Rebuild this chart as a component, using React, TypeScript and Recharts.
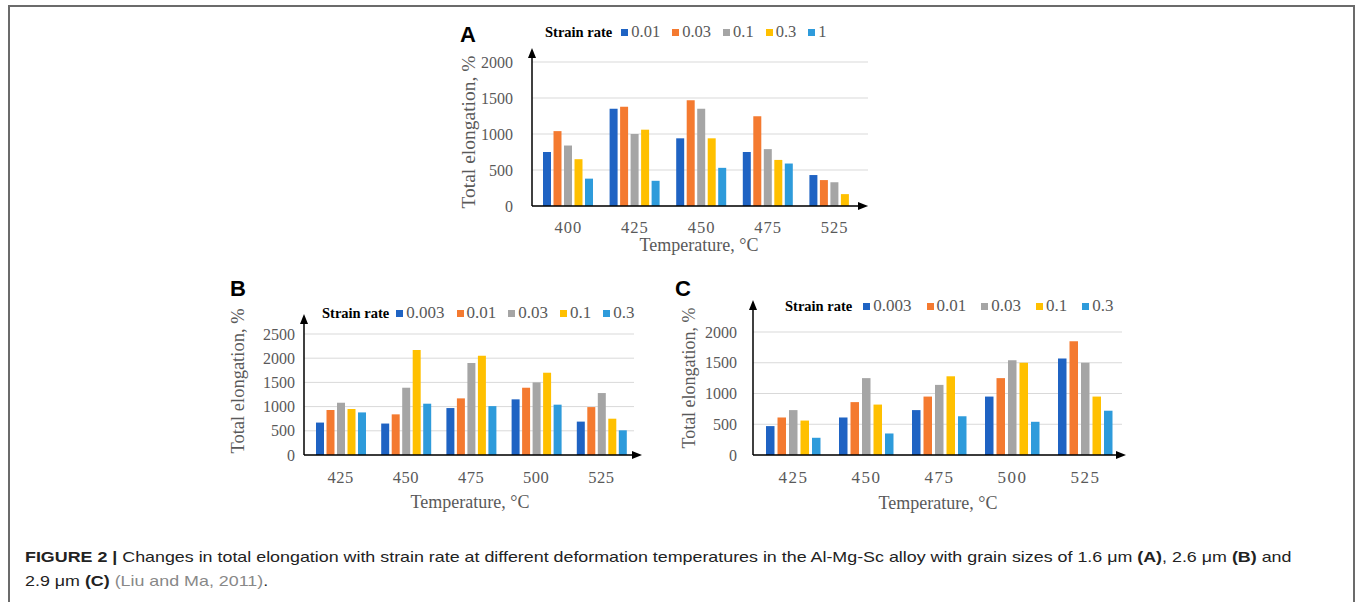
import React from 'react'
import { BarChart, Bar, XAxis, YAxis, CartesianGrid } from 'recharts'

const tempsA = ['400', '425', '450', '475', '525']
const tempsBC = ['425', '450', '475', '500', '525']

const ratesA = ['0.01', '0.03', '0.1', '0.3', '1']
const ratesBC = ['0.003', '0.01', '0.03', '0.1', '0.3']

const colors = ['#1f63c3', '#f47a30', '#a5a5a5', '#ffc000', '#2e9bdb']

// A: grain size 1.6 um
const a001 = [750, 1350, 940, 750, 430]
const a003 = [1040, 1380, 1470, 1245, 360]
const a01 = [840, 1000, 1350, 790, 330]
const a03 = [650, 1060, 940, 640, 165]
const a1 = [380, 350, 530, 590, 0]

// B: grain size 2.6 um
const b0003 = [670, 650, 970, 1150, 690]
const b001 = [930, 840, 1170, 1390, 990]
const b003 = [1080, 1390, 1900, 1500, 1280]
const b01 = [950, 2170, 2050, 1700, 750]
const b03 = [880, 1060, 1010, 1040, 510]

// C: grain size 2.9 um
const c0003 = [470, 610, 730, 950, 1570]
const c001 = [610, 860, 950, 1250, 1850]
const c003 = [730, 1250, 1140, 1540, 1500]
const c01 = [560, 820, 1280, 1500, 950]
const c03 = [280, 350, 630, 540, 720]

const ticksA = [0, 500, 1000, 1500, 2000]
const ticksB = [0, 500, 1000, 1500, 2000, 2500]
const ticksC = [0, 500, 1000, 1500, 2000]

const serif = '"Liberation Serif", "Times New Roman", serif'
const sans = '"Liberation Sans", Arial, sans-serif'
const grey = '#595959'

type Geo = {
  left: number
  top: number
  width: number
  height: number
  plotLeft: number
  plotTop: number
  plotRight: number
  plotBottom: number
  arrowTop: number
  arrowRight: number
  padL: number
  yTickGap: number
  xTickGap: number
  xTickSize: number
  xTickSpacing: number
  barSize: number
  barGap: number
  yLabel: [number, number]
  yLabelSize: number
  xLabel: [number, number]
  letter: [number, number]
  legend: [number, number]
  legendSize: number
  legendGap: number
  itemGap: number
}

const geoA: Geo = {
  left: 440, top: 20, width: 440, height: 250,
  plotLeft: 532, plotTop: 62, plotRight: 868, plotBottom: 206,
  arrowTop: 48, arrowRight: 868, padL: 3,
  yTickGap: 19, xTickGap: 15, xTickSize: 16.5, xTickSpacing: 1, barSize: 8, barGap: 2.5,
  yLabel: [468, 132], yLabelSize: 19.5, xLabel: [699, 245], letter: [460, 42],
  legend: [545, 32], legendSize: 16.5, legendGap: 9, itemGap: 12,
}

const geoB: Geo = {
  left: 210, top: 290, width: 440, height: 230,
  plotLeft: 304, plotTop: 334, plotRight: 634, plotBottom: 455,
  arrowTop: 314, arrowRight: 642, padL: 4,
  yTickGap: 9, xTickGap: 16, xTickSize: 16.5, xTickSpacing: 0.5, barSize: 8, barGap: 2.5,
  yLabel: [238, 381], yLabelSize: 18.5, xLabel: [470, 502], letter: [230, 296],
  legend: [322, 313], legendSize: 17, legendGap: 7, itemGap: 12,
}

const geoC: Geo = {
  left: 670, top: 290, width: 470, height: 230,
  plotLeft: 753, plotTop: 332, plotRight: 1122, plotBottom: 455,
  arrowTop: 300, arrowRight: 1126, padL: 4,
  yTickGap: 16, xTickGap: 16, xTickSize: 17, xTickSpacing: 1.5, barSize: 8.5, barGap: 3,
  yLabel: [689, 378], yLabelSize: 18, xLabel: [938, 503], letter: [675, 296],
  legend: [785, 306], legendSize: 17, legendGap: 11, itemGap: 15,
}

function buildRows(temps: string[], series: number[][]) {
  return temps.map((t, i) => {
    const row: Record<string, string | number> = { temp: t }
    series.forEach((s, k) => {
      row['s' + k] = s[i]
    })
    return row
  })
}

function Panel({
  letter,
  temps,
  rates,
  series,
  ticks,
  g,
}: {
  letter: string
  temps: string[]
  rates: string[]
  series: number[][]
  ticks: number[]
  g: Geo
}) {
  const data = buildRows(temps, series)
  const yTick = { fill: grey, fontSize: 16, fontFamily: serif }
  const xTick = { fill: grey, fontSize: g.xTickSize, fontFamily: serif, letterSpacing: g.xTickSpacing }
  return (
    <>
      <div style={{ position: 'absolute', left: g.left, top: g.top }}>
        <BarChart
          width={g.width}
          height={g.height}
          data={data}
          margin={{ top: g.plotTop - g.top, right: g.left + g.width - g.plotRight, bottom: 0, left: 0 }}
          barSize={g.barSize}
          barGap={g.barGap}
        >
          <CartesianGrid vertical={false} stroke="#d9d9d9" />
          <XAxis
            dataKey="temp"
            axisLine={false}
            tickLine={false}
            tickSize={0}
            tickMargin={g.xTickGap}
            height={g.top + g.height - g.plotBottom}
            interval={0}
            padding={{ left: g.padL, right: 0 }}
            tick={xTick}
          />
          <YAxis
            domain={[0, ticks[ticks.length - 1]]}
            ticks={ticks}
            axisLine={false}
            tickLine={false}
            tickSize={0}
            tickMargin={g.yTickGap}
            width={g.plotLeft - g.left}
            interval={0}
            tick={yTick}
          />
          {rates.map((r, k) => (
            <Bar key={r} dataKey={'s' + k} name={r} fill={colors[k]} isAnimationActive={false} />
          ))}
        </BarChart>
      </div>
      <svg
        width={1355}
        height={602}
        style={{ position: 'absolute', left: 0, top: 0, pointerEvents: 'none' }}
      >
        <line x1={g.plotLeft} y1={g.plotBottom} x2={g.plotLeft} y2={g.arrowTop + 8} stroke="#000" strokeWidth={1.5} />
        <polygon
          points={`${g.plotLeft - 4},${g.arrowTop + 10} ${g.plotLeft + 4},${g.arrowTop + 10} ${g.plotLeft},${g.arrowTop}`}
          fill="#000"
        />
        <line x1={g.plotLeft} y1={g.plotBottom} x2={g.arrowRight - 8} y2={g.plotBottom} stroke="#000" strokeWidth={1.5} />
        <polygon
          points={`${g.arrowRight - 10},${g.plotBottom - 4} ${g.arrowRight - 10},${g.plotBottom + 4} ${g.arrowRight},${g.plotBottom}`}
          fill="#000"
        />
        <text
          x={g.yLabel[0]}
          y={g.yLabel[1]}
          transform={`rotate(-90 ${g.yLabel[0]} ${g.yLabel[1]})`}
          textAnchor="middle"
          dominantBaseline="central"
          fontFamily={serif}
          fontSize={g.yLabelSize}
          fill={grey}
        >
          Total elongation, %
        </text>
        <text
          x={g.xLabel[0]}
          y={g.xLabel[1]}
          textAnchor="middle"
          dominantBaseline="central"
          fontFamily={serif}
          fontSize={18}
          fill={grey}
        >
          Temperature, °C
        </text>
        <text x={g.letter[0]} y={g.letter[1]} fontFamily={sans} fontWeight="bold" fontSize={22} fill="#000">
          {letter}
        </text>
      </svg>
      <div
        style={{
          position: 'absolute',
          left: g.legend[0],
          top: g.legend[1] - 10,
          height: 20,
          display: 'flex',
          alignItems: 'center',
          fontFamily: serif,
          whiteSpace: 'nowrap',
        }}
      >
        <span style={{ fontWeight: 'bold', fontSize: 14.5, color: '#000', marginRight: g.legendGap }}>Strain rate</span>
        {rates.map((r, k) => (
          <span key={r} style={{ display: 'flex', alignItems: 'center', marginRight: g.itemGap }}>
            <span style={{ width: 7, height: 7, background: colors[k], marginRight: 3 }} />
            <span style={{ fontSize: g.legendSize, color: grey }}>{r}</span>
          </span>
        ))}
      </div>
    </>
  )
}

export default function App() {
  return (
    <div
      style={{
        position: 'absolute',
        left: 0,
        top: 0,
        width: 1355,
        height: 602,
        background: '#fff',
        overflow: 'hidden',
      }}
    >
      <div
        style={{
          position: 'absolute',
          left: 8,
          top: 5,
          width: 1347,
          height: 620,
          borderTop: '2px solid #6b6b6b',
          borderLeft: '2px solid #6b6b6b',
          borderRight: '2px solid #6b6b6b',
          boxSizing: 'border-box',
        }}
      />
      <Panel letter="A" temps={tempsA} rates={ratesA} series={[a001, a003, a01, a03, a1]} ticks={ticksA} g={geoA} />
      <Panel letter="B" temps={tempsBC} rates={ratesBC} series={[b0003, b001, b003, b01, b03]} ticks={ticksB} g={geoB} />
      <Panel letter="C" temps={tempsBC} rates={ratesBC} series={[c0003, c001, c003, c01, c03]} ticks={ticksC} g={geoC} />
      <div
        style={{
          position: 'absolute',
          left: 25,
          top: 545,
          width: 1100,
          fontFamily: sans,
          fontSize: 15,
          lineHeight: '24px',
          color: '#222',
          whiteSpace: 'nowrap',
          transform: 'scaleX(1.19)',
          transformOrigin: '0 0',
        }}
      >
        <b>FIGURE 2 |</b> Changes in total elongation with strain rate at different deformation temperatures in the
        Al-Mg-Sc alloy with grain sizes of 1.6 μm <b>(A)</b>, 2.6 μm <b>(B)</b> and
        <br />
        2.9 μm <b>(C)</b> <span style={{ color: '#888' }}>(Liu and Ma, 2011)</span>.
      </div>
    </div>
  )
}
